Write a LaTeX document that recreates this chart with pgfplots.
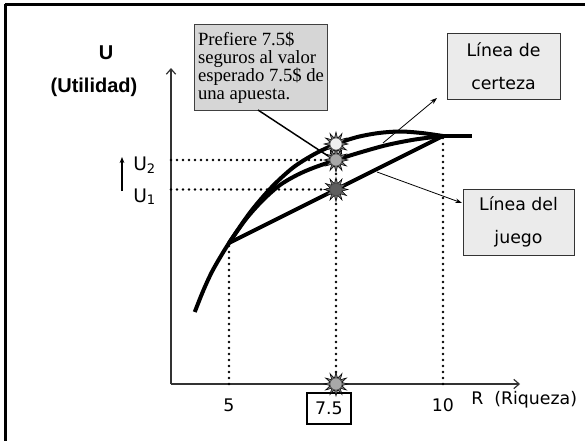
\documentclass[border=0pt]{standalone}
\usepackage{pgfplots}
\pgfplotsset{compat=1.18}
\usepackage{fontspec}
\setmainfont{DejaVu Sans}
\newfontfamily\tnr{Liberation Serif}
\newfontfamily\arial{Liberation Sans}
\usetikzlibrary{arrows.meta}

\definecolor{boxgray}{HTML}{D6D6D6}
\definecolor{boxlight}{HTML}{EBEBEB}
\definecolor{sunlight}{HTML}{EFEFEF}
\definecolor{sunmid}{HTML}{A8A8A8}
\definecolor{sundark}{HTML}{5E5E5E}

% sun-like mark: 12 spikes around the centre
\newcommand\spike[2]{\pgfpathlineto{\pgfpointpolar{#1}{#2\pgfplotmarksize}}}
\pgfdeclareplotmark{sun}{%
  \pgfpathmoveto{\pgfpointpolar{0}{\pgfplotmarksize}}%
  \spike{15}{0.5}\spike{30}{1}\spike{45}{0.5}\spike{60}{1}\spike{75}{0.5}%
  \spike{90}{1}\spike{105}{0.5}\spike{120}{1}\spike{135}{0.5}\spike{150}{1}%
  \spike{165}{0.5}\spike{180}{1}\spike{195}{0.5}\spike{210}{1}\spike{225}{0.5}%
  \spike{240}{1}\spike{255}{0.5}\spike{270}{1}\spike{285}{0.5}\spike{300}{1}%
  \spike{315}{0.5}\spike{330}{1}\spike{345}{0.5}%
  \pgfpathclose
  \pgfusepathqfillstroke
}

\tikzset{
  dots/.style={line width=2.2pt, line cap=round, dash pattern=on 0pt off 4.5pt, black},
  curve/.style={line width=3pt, black},
  sun/.style={only marks, mark=sun, mark size=9pt,
    mark options={fill=black!55, draw=black, line width=0.4pt}},
  core/.style={only marks, mark=*, mark size=4.6pt,
    mark options={fill=#1, draw=black!70, line width=0.6pt}},
}

\begin{document}
\begin{tikzpicture}
% page = 585 x 440 px, 1 px = 0.75 pt, axis origin at px (171,384)
\useasboundingbox (-128.25pt,-42pt) rectangle (310.5pt,288pt);
\begin{axis}[
  at={(0,0)}, anchor=south west,
  x=32.1pt, y=7.5pt,
  xmin=3.645, xmax=11.8, ymin=0, ymax=31.6,
  enlargelimits=false, clip=false,
  axis lines=left,
  axis line style={draw=black!80, line width=0.9pt},
  every outer x axis line/.append style={-{Straight Barb[length=4pt,width=7pt]}},
  every outer y axis line/.append style={-{Straight Barb[length=4pt,width=7pt]}},
  xtick={5,10}, xticklabels={5,10},
  ytick=\empty,
  major tick length=0pt,
  xticklabel style={anchor=center, yshift=-15.75pt, font=\fontsize{13}{15}\selectfont},
  extra x ticks={7.5}, extra x tick labels={7.5},
  extra x tick style={xticklabel style={draw=black, fill=white, line width=0.8pt,
    minimum width=33pt, minimum height=23.25pt, inner sep=0pt,
    xshift=-5.25pt, yshift=-2.6pt}},
]

% dotted guide lines
\addplot[dots] coordinates {(3.645,22.4) (7.5,22.4)};
\addplot[dots] coordinates {(3.645,19.45) (7.5,19.45)};
\addplot[dots] coordinates {(5,0) (5,14.1)};
\addplot[dots] coordinates {(7.5,0) (7.5,22.4)};
\addplot[dots] coordinates {(10,0) (10,24.8)};

% utility curve
\addplot[curve, smooth] coordinates {
  (4.2,7.2) (4.4,9.35) (4.63,11.45) (5,14.1) (5.5,17.2) (6,19.7)
  (6.5,21.65) (7,23.0) (7.5,24.0) (8,24.7) (8.5,25.1) (9,25.25)
  (9.5,25.1) (10,24.8)
};
\addplot[curve] coordinates {(10,24.8) (10.68,24.8)};

% linea de certeza
\addplot[curve, smooth] coordinates {
  (5,14.1) (5.397,16.5) (5.794,18.4) (6.192,19.9) (6.589,20.9)
  (6.963,21.6) (7.5,22.4) (8.061,23.15) (8.692,23.9) (9.346,24.45) (10,24.8)
};

% linea del juego
\addplot[curve] coordinates {(5,14.1) (10,24.8)};

% suns
\addplot[sun] coordinates {(7.5,24.0) (7.5,22.4) (7.5,19.45) (7.5,0)};
\addplot[core=sunlight] coordinates {(7.5,24.0)};
\addplot[core=sunmid] coordinates {(7.5,22.4)};
\addplot[core=sundark] coordinates {(7.5,19.45)};
\addplot[core=sunmid] coordinates {(7.5,0)};
\end{axis}

% annotations in pixel units of the reference
\begin{scope}[x=0.75pt, y=-0.75pt, shift={(-171,-384)}]
  \draw[line width=2.25pt] (5,5) -- (600,5);
  \draw[line width=2.25pt] (6,4) -- (6,450);

  \node[font=\arial\bfseries\fontsize{15}{17}\selectfont] at (106,53) {U};
  \node[font=\arial\bfseries\fontsize{15}{17}\selectfont] at (94,87) {(Utilidad)};

  \node[anchor=base west, inner sep=0pt, font=\fontsize{14}{16}\selectfont] at (133,170) {U\textsubscript{2}};
  \node[anchor=base west, inner sep=0pt, font=\fontsize{14}{16}\selectfont] at (133,202) {U\textsubscript{1}};
  \draw[line width=0.8pt, -{Stealth[length=4.5pt,width=3.5pt]}] (122,191) -- (122,157);

  \node[draw=black!75, fill=boxgray, line width=0.75pt, minimum width=91.5pt,
    minimum height=63.75pt, align=left, inner xsep=3pt, inner ysep=4pt,
    font=\tnr\fontsize{14}{13.6}\selectfont] at (261,67.5)
    {Prefiere 7.5\$\\seguros al valor\\esperado 7.5\$ de\\una apuesta.};
  \draw[line width=1.1pt] (258,110) -- (328,156);

  \node[draw=black!80, fill=boxlight, line width=0.75pt, minimum width=84.75pt,
    minimum height=48.75pt, align=center, font=\fontsize{13}{24.75}\selectfont]
    at (503.5,66.5) {Línea de\\certeza};
  \draw[line width=0.6pt, -{Stealth[length=5pt,width=3.5pt]}] (383,143) -- (437,98);

  \node[draw=black!80, fill=boxlight, line width=0.75pt, minimum width=83.25pt,
    minimum height=49.5pt, align=center, font=\fontsize{13}{24.75}\selectfont]
    at (518.5,222) {Línea del\\juego};
  \draw[line width=0.6pt, -{Stealth[length=5pt,width=3.5pt]}] (377,172) -- (462,203);

  \node[anchor=west, inner sep=0pt, font=\fontsize{13}{15}\selectfont] at (471,400) {R\ \ (Riqueza)};
\end{scope}
\end{tikzpicture}
\end{document}
